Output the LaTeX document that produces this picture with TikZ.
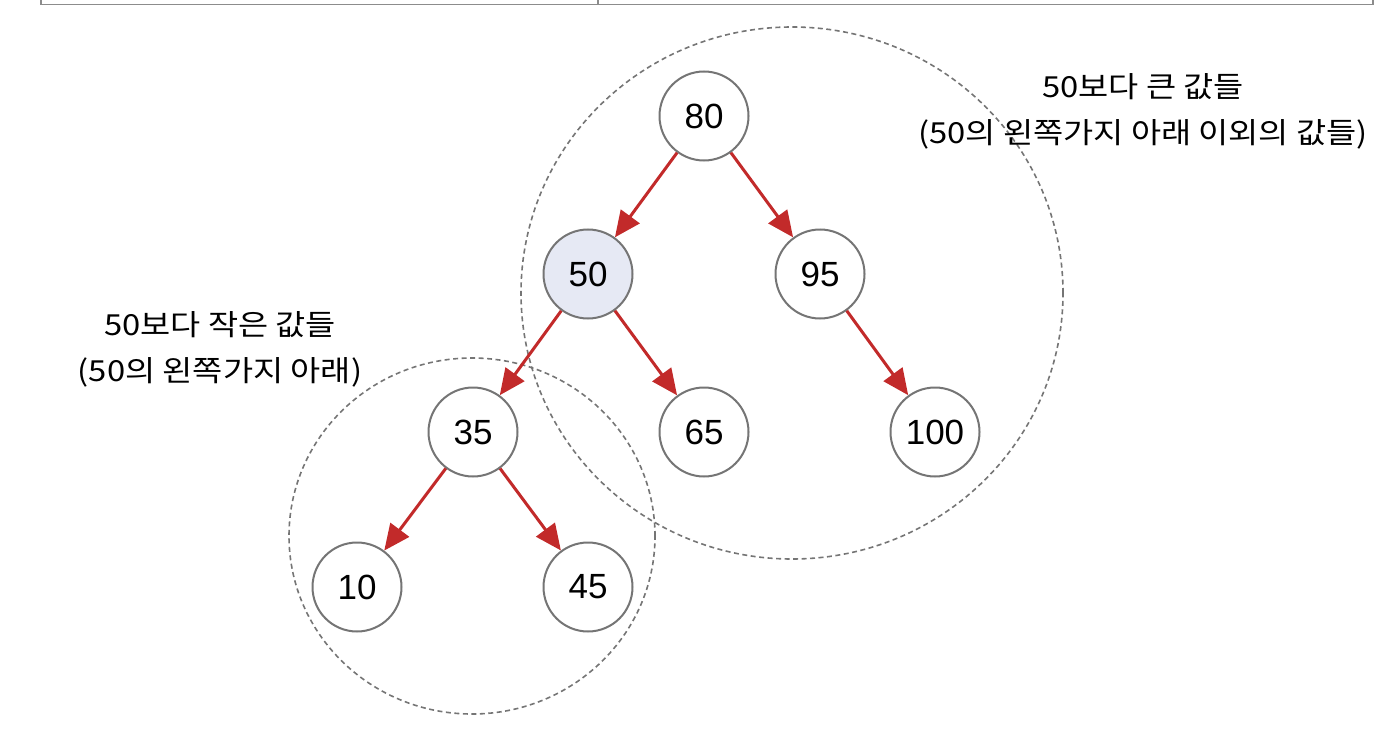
\documentclass[tikz,border=0pt]{standalone}
\usepackage{fontspec}
\newfontfamily\krfont[FakeStretch=1.13]{Noto Sans CJK KR}
\newfontfamily\numfont{Liberation Sans}
\usetikzlibrary{arrows.meta}
\definecolor{edgered}{HTML}{C22A2A}
\definecolor{ringgray}{HTML}{757575}
\definecolor{tablegray}{HTML}{8C8C8C}
\definecolor{hilite}{HTML}{E6E9F4}
\begin{document}
\begin{tikzpicture}[x=1pt,y=-1pt,
  treenode/.style={circle, draw=ringgray, line width=2pt, fill=white, minimum size=89pt, inner sep=0pt, font=\numfont\fontsize{35}{40}\selectfont},
  link/.style={draw=edgered, line width=3pt, -{Triangle[length=26pt,width=23pt]}},
  region/.style={draw=ringgray, line width=1.6pt, dash pattern=on 5pt off 3.5pt},
  note/.style={align=center, font=\krfont\fontsize{29}{46}\selectfont, inner sep=0pt},
  tableline/.style={draw=tablegray, line width=1.5pt}]
\useasboundingbox (0,0) rectangle (1380,730);
% table remnant at top
\coordinate (tl) at (41,0);
\coordinate (tm) at (598,0);
\coordinate (tr) at (1373,0);
\coordinate (bl) at (41,4.5);
\coordinate (bm) at (598,4.5);
\coordinate (br) at (1373,4.5);
\draw[tableline] (tl) -- (bl) -- (br) -- (tr);
\draw[tableline] (tm) -- (bm);
% dashed regions
\draw[region] (792,293) ellipse [x radius=271pt, y radius=266pt];
\draw[region] (472,536) ellipse [x radius=183pt, y radius=178pt];
% tree nodes
\node[treenode] (n80) at (704,116) {80};
\node[treenode, fill=hilite] (n50) at (588,274) {50};
\node[treenode] (n95) at (820,274) {95};
\node[treenode] (n35) at (473,432) {35};
\node[treenode] (n65) at (704,432) {65};
\node[treenode] (n100) at (935,432) {100};
\node[treenode] (n10) at (357,587) {10};
\node[treenode] (n45) at (588,587) {45};
% edges
\draw[link] (n80) -- (n50);
\draw[link] (n80) -- (n95);
\draw[link] (n50) -- (n35);
\draw[link] (n50) -- (n65);
\draw[link] (n95) -- (n100);
\draw[link] (n35) -- (n10);
\draw[link] (n35) -- (n45);
% labels
\node[note] (bigNote) at (1143,111) {50보다 큰 값들\\(50의 왼쪽가지 아래 이외의 값들)};
\node[note] (smallNote) at (220,349) {50보다 작은 값들\\(50의 왼쪽가지 아래)};
\end{tikzpicture}
\end{document}
